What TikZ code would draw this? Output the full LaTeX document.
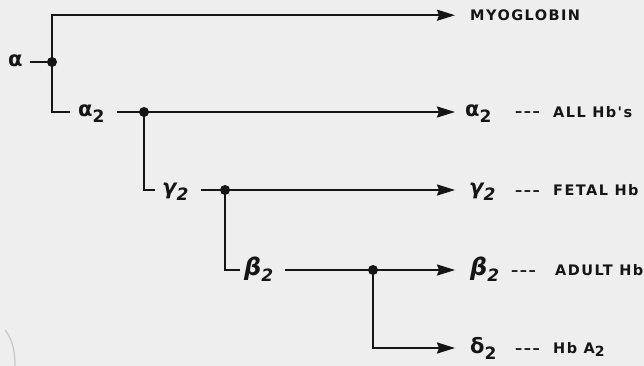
\documentclass[tikz,border=0pt]{standalone}
\usepackage{fontspec}
\usetikzlibrary{arrows.meta}
\newfontfamily\grk{DejaVu Sans}
\newfontfamily\capsf{DejaVu Sans}[LetterSpace=10]
\definecolor{paper}{HTML}{EEEEEE}
\definecolor{ink}{HTML}{151515}
\newcommand\gsub[1]{\raisebox{-6pt}{\fontsize{17}{17}\selectfont #1}}
\newcommand\csub[1]{\raisebox{-3pt}{\fontsize{14}{14}\selectfont #1}}
\newcommand\bigb{{\fontsize{24}{24}\selectfont β}}
\newcommand\dsh{–\kern1.5pt–\kern1.5pt–}
\tikzset{
  wire/.style={draw=ink, line width=1.9pt},
  arr/.style={wire, -{Stealth[length=18pt,width=11pt,inset=2pt]}},
  glab/.style={font=\grk\bfseries\fontsize{21}{21}\selectfont, text=ink, anchor=base west, inner sep=0pt},
  clab/.style={font=\capsf\bfseries\fontsize{14.5}{14.5}\selectfont, text=ink, anchor=base west, inner sep=0pt},
  jdot/.style={fill=ink}
}
\begin{document}
\begin{tikzpicture}[x=1pt,y=-1pt]
\fill[paper] (0,0) rectangle (644,366);
\useasboundingbox (0,0) rectangle (644,366);
% scan artifact
\draw[black!22, line width=1.2pt] (5,330) .. controls (13,340) and (15,352) .. (15,366);

% junctions and corners
\coordinate (j1) at (52,62);
\coordinate (c2) at (52,112);
\coordinate (j2) at (144,112);
\coordinate (c3) at (144,190);
\coordinate (j3) at (225,190);
\coordinate (c4) at (225,270);
\coordinate (j4) at (373,270);
\coordinate (c5) at (373,348);

% left labels
\node[glab] (a) at (8,66.5) {α};
\node[glab] (a2l) at (78,116.5) {α\gsub{2}};
\node[glab] (g2l) at (162,194.5) {\itshape γ\gsub{2}};
\node[glab] (b2l) at (244,275) {\itshape\bigb\gsub{2}};

% right labels
\node[clab] (myo) at (470,20.5) {MYOGLOBIN};
\node[glab] (a2r) at (465,116.5) {α\gsub{2}};
\node[clab] (a2d) at (515,117) {\dsh};
\node[clab] (a2t) at (553,117.5) {ALL Hb's};
\node[glab] (g2r) at (469,194.5) {\itshape γ\gsub{2}};
\node[clab] (g2d) at (515,195) {\dsh};
\node[clab] (g2t) at (553,195.5) {FETAL Hb};
\node[glab] (b2r) at (470,275) {\itshape\bigb\gsub{2}};
\node[clab] (b2d) at (511,275) {\dsh};
\node[clab] (b2t) at (555,275.5) {ADULT Hb};
\node[glab] (d2r) at (470,353) {δ\gsub{2}};
\node[clab] (d2d) at (515,353) {\dsh};
\node[clab] (d2t) at (553,353.5) {Hb A\csub{2}};

% connectors
\draw[wire] ([xshift=7pt]a.east |- j1) -- (j1);
\draw[arr] (j1) |- ([xshift=-15pt]myo.west);
\draw[wire] (j1) -- (c2) -- ([xshift=-8pt]a2l.west |- c2);
\draw[wire] ([xshift=12pt]a2l.east |- j2) -- (j2);
\draw[arr] (j2) -- ([xshift=-10pt]a2r.west |- j2);
\draw[wire] (j2) -- (c3) -- ([xshift=-7pt]g2l.west |- c3);
\draw[wire] ([xshift=12pt]g2l.east |- j3) -- (j3);
\draw[arr] (j3) -- ([xshift=-14pt]g2r.west |- j3);
\draw[wire] (j3) -- (c4) -- ([xshift=-4pt]b2l.west |- c4);
\draw[wire] ([xshift=12pt]b2l.east |- j4) -- (j4);
\draw[arr] (j4) -- ([xshift=-15pt]b2r.west |- j4);
\draw[arr] (j4) -- (c5) -- ([xshift=-15pt]d2r.west |- c5);

% dots
\foreach \p in {j1,j2,j3,j4} \fill[jdot] (\p) circle (5pt);
\end{tikzpicture}
\end{document}
